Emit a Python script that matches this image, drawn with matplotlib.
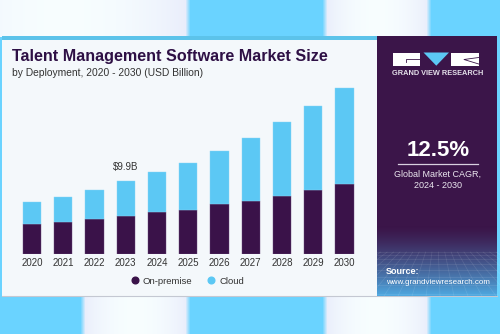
import numpy as np
import matplotlib.pyplot as plt
from matplotlib.patches import Rectangle, Polygon
from matplotlib.lines import Line2D

plt.rcParams['font.family'] = ['Liberation Sans', 'DejaVu Sans']

years = ['2020', '2021', '2022', '2023', '2024', '2025',
         '2026', '2027', '2028', '2029', '2030']
on_premise = [4.09, 4.40, 4.73, 5.18, 5.72, 6.03, 6.77, 7.26, 7.94, 8.72, 9.53]
cloud = [2.95, 3.40, 3.99, 4.72, 5.41, 6.40, 7.26, 8.50, 10.00, 11.44, 13.08]
label_year = '2023'
cagr = '12.5%'

PURPLE = '#3a1249'
CLOUD = '#5cc8f4'
SKY = np.array([0.416, 0.831, 1.0])
LAVENDER = np.array([0.91, 0.925, 0.985])
WHITE = np.array([0.97, 0.995, 1.0])
PANEL = np.array([0.231, 0.082, 0.286])
PANEL_BLUE = np.array([0.31, 0.66, 0.88])

W, H = 500, 334
fig = plt.figure(figsize=(5, 3.34), dpi=100)

# full-figure layer in pixel coordinates for the backdrop and side panel
deco = fig.add_axes([0, 0, 1, 1], zorder=0)
deco.axis('off')


def band_row(bands):
    row = np.tile(SKY, (W, 1))
    xs = np.arange(W)
    for a, b in bands:
        inside = (xs >= a) & (xs <= b)
        t = (xs[inside] - a) / (b - a)
        w = np.sin(np.pi * t) ** 0.7
        row[inside] = LAVENDER * (1 - w[:, None]) + WHITE * w[:, None]
    k = np.ones(5) / 5
    for c in range(3):
        row[:, c] = np.convolve(np.pad(row[:, c], 2, mode='edge'), k, mode='valid')
    return row


bg = np.tile(SKY, (H, W, 1))
bg[:37] = band_row([(-60, 187), (325, 428)])
bg[295:] = band_row([(83, 187), (325, 428)])
deco.imshow(bg, extent=(0, W, H, 0), aspect='auto', zorder=0)

# card with a thin top stripe
deco.add_patch(Rectangle((2, 36), 375, 260, facecolor='#f4f8fb', edgecolor='none', zorder=1))
deco.add_patch(Rectangle((2, 36), 375, 3.5, facecolor='#5cc3ea', edgecolor='none', zorder=2))
deco.plot([2, 497], [296.3, 296.3], color='#c4c8d2', lw=0.8, zorder=2)

# right panel
deco.add_patch(Rectangle((377, 36), 120, 260, facecolor=PANEL, edgecolor='none', zorder=1))
f = np.linspace(0, 1, 70)[:, None]
ramp = f ** 1.3
grad = PANEL * (1 - ramp) + PANEL_BLUE * ramp
grad = np.repeat(grad[:, None, :], 10, axis=1)
deco.imshow(grad, extent=(377, 497, 296, 226), aspect='auto', zorder=2)

# perspective grid at the foot of the panel
vx, vy = 437, 215
for y in [252, 255, 259, 264, 270, 277, 285, 294]:
    deco.plot([377, 497], [y, y], color='white', alpha=0.11, lw=0.5, zorder=3)
for xb in np.arange(300, 580, 14):
    t = (252 - 296) / (vy - 296)
    xt = xb + (vx - xb) * t
    deco.plot([xb, xt], [296, 252], color='white', alpha=0.11, lw=0.5, zorder=3,
              clip_on=True)
deco.set_xlim(0, W)
deco.set_ylim(H, 0)

# logo
deco.add_patch(Rectangle((392.5, 52.5), 27.5, 13.2, facecolor='white', edgecolor='none', zorder=4))
deco.plot([420, 406, 406], [59.3, 59.3, 62], color=PANEL, lw=0.6, zorder=5)
deco.add_patch(Polygon([(423.5, 52.5), (449, 52.5), (436.3, 65.7)], closed=True,
                       facecolor=CLOUD, edgecolor='none', zorder=4))
deco.add_patch(Rectangle((451, 52.5), 27.7, 13.2, facecolor='white', edgecolor='none', zorder=4))
deco.plot([478.7, 464, 478.7], [57.5, 59.5, 64], color=PANEL, lw=0.6, zorder=5)
deco.text(437.5, 73.5, 'GRAND VIEW RESEARCH', color='#e4e0ea', fontsize=5.3,
          fontweight='bold', ha='center', va='center', zorder=5)

# CAGR block
deco.text(438, 150.5, cagr, color='white', fontsize=16, fontweight='bold',
          ha='center', va='center', zorder=5)
deco.plot([398, 478], [164.3, 164.3], color='#d8d0e0', lw=0.9, zorder=5)
deco.text(438, 174, 'Global Market CAGR,', color='#ece8f0', fontsize=6.5,
          ha='center', va='center', zorder=5)
deco.text(438, 185.6, '2024 - 2030', color='#ece8f0', fontsize=6.5,
          ha='center', va='center', zorder=5)

deco.text(386, 272, 'Source:', color='white', fontsize=6.5, fontweight='bold',
          ha='left', va='center', zorder=5)
deco.text(386, 282, 'www.grandviewresearch.com', color='white', fontsize=5.8,
          ha='left', va='center', zorder=5)

# titles
deco.text(12, 57, 'Talent Management Software Market Size', color='#2e1045',
          fontsize=11.6, fontweight='bold', ha='left', va='center', zorder=5)
deco.text(12, 72.5, 'by Deployment, 2020 - 2030 (USD Billion)', color='#333333',
          fontsize=7.4, ha='left', va='center', zorder=5)

# bar chart
ax = fig.add_axes([16.4 / W, 1 - 254 / H, 343.75 / W, 183.6 / H], zorder=1)
ax.set_facecolor('none')
x = np.arange(len(years))
ax.bar(x, on_premise, width=0.585, color=PURPLE, edgecolor='#6a4a7a', linewidth=0.3)
ax.bar(x, cloud, width=0.585, bottom=on_premise, color=CLOUD, edgecolor='#8ad6f6', linewidth=0.3)
ax.set_xlim(-0.5, len(years) - 0.5)
ax.set_ylim(0, 25)
ax.set_xticks(x, years)
ax.tick_params(axis='x', length=0, pad=3, labelsize=7, labelcolor='#333333')
ax.set_yticks([])
for s in ax.spines.values():
    s.set_visible(False)

i = years.index(label_year)
total = on_premise[i] + cloud[i]
ax.annotate(f'${total:.1f}B', (i, total), xytext=(0, 7), textcoords='offset points',
            ha='center', va='bottom', fontsize=7, color='#333333')

handles = [
    Line2D([], [], marker='o', linestyle='none', markersize=4.8, color=PURPLE, label='On-premise'),
    Line2D([], [], marker='o', linestyle='none', markersize=4.8, color=CLOUD, label='Cloud'),
]
fig.legend(handles=handles, loc='center', bbox_to_anchor=(187 / W, 1 - 281 / H), ncol=2,
           frameon=False, fontsize=6.8, handlelength=1.0, handletextpad=0.35,
           columnspacing=1.5, labelcolor='#333333')

fig.savefig('out.png', dpi=100)
